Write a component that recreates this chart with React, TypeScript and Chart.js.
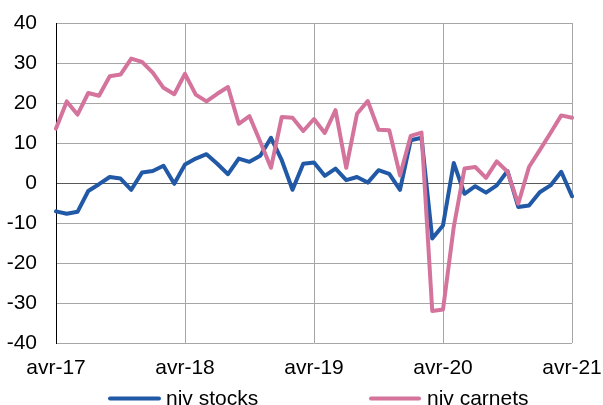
import React, { useEffect, useRef } from "react";
import { Chart, registerables } from "chart.js";

Chart.register(...registerables);

const months = ["avr", "mai", "juin", "juil", "août", "sept", "oct", "nov", "déc", "janv", "févr", "mars"];
const categories: string[] = [];
for (let y = 17; y <= 21; y++) {
  for (let m = 0; m < 12; m++) {
    if (y === 21 && m > 0) break;
    const yy = m >= 9 ? y + 1 : y;
    categories.push(`${months[m]}-${yy}`);
  }
}

const nivStocks = [
  -7.1, -7.7, -7.2, -2.0, -0.3, 1.5, 1.1, -1.7, 2.6, 3.0, 4.3, -0.2,
  4.6, 6.1, 7.2, 4.8, 2.2, 6.1, 5.3, 6.8, 11.3, 5.7, -1.7, 4.8,
  5.1, 1.8, 3.6, 0.7, 1.5, 0.1, 3.2, 2.3, -1.7, 10.7, 11.3, -13.9,
  -10.6, 5.0, -2.7, -0.8, -2.4, -0.6, 3.0, -6.0, -5.6, -2.3, -0.6, 2.8,
  -3.3,
];

const nivCarnets = [
  13.6, 20.4, 17.1, 22.5, 21.8, 26.7, 27.1, 31.1, 30.3, 27.6, 23.8, 22.2,
  27.3, 22.1, 20.4, 22.3, 24.0, 14.8, 16.7, 10.3, 3.8, 16.5, 16.3, 13.0,
  16.0, 12.5, 18.2, 3.8, 17.3, 20.5, 13.3, 13.2, 1.9, 11.8, 12.6, -32.0,
  -31.6, -11.0, 3.6, 4.0, 1.3, 5.4, 2.8, -5.2, 4.0, 8.2, 12.5, 16.9,
  16.3,
];

const seriesNames = ["niv stocks", "niv carnets"];
const seriesColors = ["#2159A6", "#D4739B"];

const FONT = 'Arial, "Liberation Sans", sans-serif';

const legendPlugin = {
  id: "customLegend",
  afterDraw(chart: any) {
    const ctx = chart.ctx;
    const slots = [
      { x0: 108, x1: 161, tx: 166 },
      { x0: 369, x1: 421, tx: 427 },
    ];
    const lineY = 398.5;
    const baseY = 404.5;
    ctx.save();
    chart.data.datasets.forEach((ds: any, i: number) => {
      const s = slots[i];
      ctx.strokeStyle = ds.borderColor;
      ctx.lineWidth = 4;
      ctx.lineCap = "round";
      ctx.beginPath();
      ctx.moveTo(s.x0 + 2, lineY);
      ctx.lineTo(s.x1 - 2, lineY);
      ctx.stroke();
      ctx.fillStyle = "#000";
      ctx.font = `21px ${FONT}`;
      ctx.textAlign = "left";
      ctx.textBaseline = "alphabetic";
      ctx.fillText(ds.label, s.tx, baseY);
    });
    ctx.restore();
  },
};

export default function App() {
  const ref = useRef<HTMLCanvasElement | null>(null);
  useEffect(() => {
    document.body.style.margin = "0";
    const canvas = ref.current;
    if (!canvas) return;
    const chart = new Chart(canvas, {
      type: "line",
      data: {
        labels: categories,
        datasets: [
          {
            label: seriesNames[0],
            data: nivStocks,
            borderColor: seriesColors[0],
            backgroundColor: seriesColors[0],
            borderWidth: 4,
            pointRadius: 0,
            tension: 0,
            borderJoinStyle: "round",
            borderCapStyle: "round",
            order: 1,
          },
          {
            label: seriesNames[1],
            data: nivCarnets,
            borderColor: seriesColors[1],
            backgroundColor: seriesColors[1],
            borderWidth: 4,
            pointRadius: 0,
            tension: 0,
            borderJoinStyle: "round",
            borderCapStyle: "round",
            order: 0,
          },
        ],
      },
      options: {
        animation: false,
        responsive: false,
        layout: { padding: { left: 0, top: 23, right: 31, bottom: 22 } },
        plugins: {
          legend: { display: false },
          tooltip: { enabled: false },
        },
        scales: {
          x: {
            type: "category",
            offset: false,
            afterFit: (scale: any) => {
              scale.height = 40;
              scale.paddingLeft = 0;
              scale.paddingRight = 0;
            },
            grid: {
              color: (c: any) => (c.index % 12 === 0 ? "#A6A6A6" : "rgba(0,0,0,0)"),
              lineWidth: 1,
              drawTicks: false,
            },
            border: { display: false },
            ticks: {
              autoSkip: false,
              maxRotation: 0,
              minRotation: 0,
              padding: 13,
              color: "#000",
              font: { family: FONT, size: 21 },
              callback: (_v: any, i: number) => (i % 12 === 0 ? categories[i] : ""),
            },
          },
          y: {
            min: -40,
            max: 40,
            afterFit: (scale: any) => {
              scale.width = 56;
              scale.paddingTop = 0;
              scale.paddingBottom = 0;
            },
            grid: {
              color: (c: any) => (c.tick && c.tick.value === 0 ? "#595959" : "#A6A6A6"),
              lineWidth: 1,
              drawTicks: false,
            },
            border: { display: true, color: "#000", width: 1 },
            ticks: {
              stepSize: 10,
              padding: 19,
              color: "#000",
              font: { family: FONT, size: 21 },
            },
          },
        },
      },
      plugins: [legendPlugin],
    });
    return () => chart.destroy();
  }, []);
  return (
    <div style={{ position: "absolute", left: 0, top: 0, width: 603, height: 405 }}>
      <canvas ref={ref} width={603} height={405} style={{ display: "block" }} />
    </div>
  );
}
